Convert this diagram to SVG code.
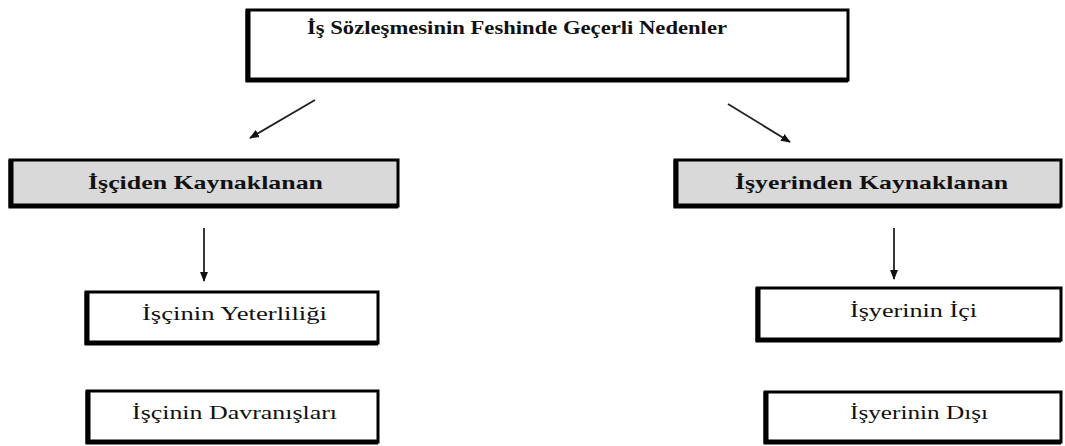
<svg xmlns="http://www.w3.org/2000/svg" width="1065" height="446" viewBox="0 0 1065 446">
  <style>
    .box { stroke: #000; stroke-width: 3; }
    .plain { fill: #fff; }
    .shade { fill: #d9d9d9; }
    .edge { stroke: #000; stroke-width: 5; fill: none; }
    .title { font-weight: bold; font-size: 19px; }
    .label { font-size: 18px; }
    .conn { stroke: #222; stroke-width: 1.8; fill: none; marker-end: url(#head); }
  </style>
  <defs>
    <marker id="head" viewBox="0 0 10 10" refX="9" refY="5" markerWidth="5.5" markerHeight="5.5" orient="auto" markerUnits="strokeWidth">
      <path d="M0,1 L10,5 L0,9 Z" fill="#111"/>
    </marker>
  </defs>
  <rect width="1065" height="446" fill="#fff"/>

  <g font-family="Liberation Serif, DejaVu Serif, serif" fill="#111">
    <g id="root">
      <rect class="box plain" x="247" y="10" width="601" height="70"/>
      <path class="edge" d="M248,10 V80 H848"/>
      <text class="title" x="307" y="34" textLength="420" lengthAdjust="spacingAndGlyphs">İş Sözleşmesinin Feshinde Geçerli Nedenler</text>
    </g>

    <g id="isciden">
      <rect class="box shade" x="10" y="160" width="388" height="46"/>
      <path class="edge" d="M11,160 V206 H398"/>
      <text class="title" x="88" y="189" textLength="235" lengthAdjust="spacingAndGlyphs">İşçiden Kaynaklanan</text>
    </g>

    <g id="isyerinden">
      <rect class="box shade" x="675" y="160" width="386" height="46"/>
      <path class="edge" d="M676,160 V206 H1061"/>
      <text class="title" x="735" y="189" textLength="273" lengthAdjust="spacingAndGlyphs">İşyerinden Kaynaklanan</text>
    </g>

    <g id="yeterlilik">
      <rect class="box plain" x="86" y="292" width="292" height="51"/>
      <path class="edge" d="M87,292 V343 H378"/>
      <text class="label" x="142" y="320" textLength="185" lengthAdjust="spacingAndGlyphs">İşçinin Yeterliliği</text>
    </g>

    <g id="davranis">
      <rect class="box plain" x="87" y="391" width="291" height="51"/>
      <path class="edge" d="M88,391 V442 H378"/>
      <text class="label" x="132" y="419" textLength="205" lengthAdjust="spacingAndGlyphs">İşçinin Davranışları</text>
    </g>

    <g id="ici">
      <rect class="box plain" x="757" y="288" width="304" height="52"/>
      <path class="edge" d="M758,288 V340 H1061"/>
      <text class="label" x="850" y="317" textLength="127" lengthAdjust="spacingAndGlyphs">İşyerinin İçi</text>
    </g>

    <g id="disi">
      <rect class="box plain" x="765" y="392" width="296" height="50"/>
      <path class="edge" d="M766,392 V442 H1061"/>
      <text class="label" x="850" y="419" textLength="138" lengthAdjust="spacingAndGlyphs">İşyerinin Dışı</text>
    </g>
  </g>

  <g id="connectors">
    <line class="conn" x1="315" y1="100" x2="250" y2="138"/>
    <line class="conn" x1="728" y1="104" x2="790" y2="142"/>
    <line class="conn" x1="204" y1="228" x2="204" y2="281"/>
    <line class="conn" x1="894" y1="228" x2="894" y2="279"/>
  </g>
</svg>
